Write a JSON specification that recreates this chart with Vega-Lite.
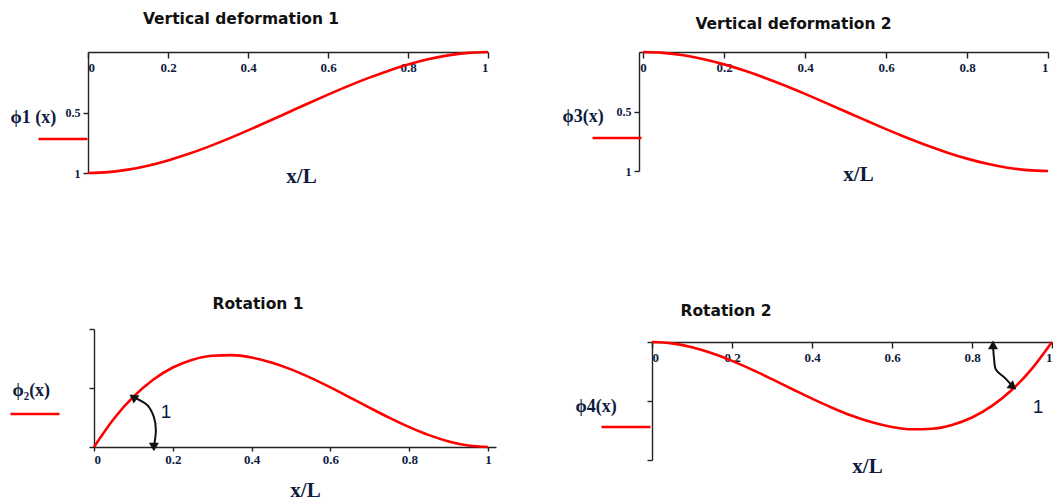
{
  "$schema": "https://vega.github.io/schema/vega-lite/v6.json",
  "autosize": {"type": "none"},
  "padding": {"left": 88, "top": 52, "right": 965, "bottom": 449},
  "background": "white",
  "config": {
    "view": {"stroke": null},
    "axis": {
      "domainColor": "#222", "domainWidth": 1.4, "tickColor": "#222", "tickWidth": 1.4,
      "grid": false, "labelOverlap": false,
      "labelFont": "Liberation Serif", "labelFontWeight": "bold", "labelFontSize": 13, "labelColor": "#0d1b3e",
      "titleFont": "Liberation Serif", "titleColor": "#0d1b3e"
    },
    "title": {"font": "DejaVu Sans", "fontWeight": "bold", "fontSize": 15.5, "color": "#111"}
  },
  "datasets": {
    "shapes": [
      {"xi": 0, "phi1": 1, "phi2": 0, "phi3": 0, "phi4": 0},
      {"xi": 0.05, "phi1": 0.99275, "phi2": 0.045125, "phi3": 0.00725, "phi4": -0.002375},
      {"xi": 0.1, "phi1": 0.972, "phi2": 0.081, "phi3": 0.028, "phi4": -0.009},
      {"xi": 0.15, "phi1": 0.93925, "phi2": 0.108375, "phi3": 0.06075, "phi4": -0.019125},
      {"xi": 0.2, "phi1": 0.896, "phi2": 0.128, "phi3": 0.104, "phi4": -0.032},
      {"xi": 0.25, "phi1": 0.84375, "phi2": 0.140625, "phi3": 0.15625, "phi4": -0.046875},
      {"xi": 0.3, "phi1": 0.784, "phi2": 0.147, "phi3": 0.216, "phi4": -0.063},
      {"xi": 0.35, "phi1": 0.71825, "phi2": 0.147875, "phi3": 0.28175, "phi4": -0.079625},
      {"xi": 0.4, "phi1": 0.648, "phi2": 0.144, "phi3": 0.352, "phi4": -0.096},
      {"xi": 0.45, "phi1": 0.57475, "phi2": 0.136125, "phi3": 0.42525, "phi4": -0.111375},
      {"xi": 0.5, "phi1": 0.5, "phi2": 0.125, "phi3": 0.5, "phi4": -0.125},
      {"xi": 0.55, "phi1": 0.42525, "phi2": 0.111375, "phi3": 0.57475, "phi4": -0.136125},
      {"xi": 0.6, "phi1": 0.352, "phi2": 0.096, "phi3": 0.648, "phi4": -0.144},
      {"xi": 0.65, "phi1": 0.28175, "phi2": 0.079625, "phi3": 0.71825, "phi4": -0.147875},
      {"xi": 0.7, "phi1": 0.216, "phi2": 0.063, "phi3": 0.784, "phi4": -0.147},
      {"xi": 0.75, "phi1": 0.15625, "phi2": 0.046875, "phi3": 0.84375, "phi4": -0.140625},
      {"xi": 0.8, "phi1": 0.104, "phi2": 0.032, "phi3": 0.896, "phi4": -0.128},
      {"xi": 0.85, "phi1": 0.06075, "phi2": 0.019125, "phi3": 0.93925, "phi4": -0.108375},
      {"xi": 0.9, "phi1": 0.028, "phi2": 0.009, "phi3": 0.972, "phi4": -0.081},
      {"xi": 0.95, "phi1": 0.00725, "phi2": 0.002375, "phi3": 0.99275, "phi4": -0.045125},
      {"xi": 1, "phi1": 0, "phi2": 0, "phi3": 1, "phi4": 0}
    ],
    "arrow2": [
      {"step": 0, "xi": 0.099, "v": 0.0805, "end": "curve"},
      {"step": 1, "xi": 0.135, "v": 0.0676},
      {"step": 2, "xi": 0.152, "v": 0.048},
      {"step": 3, "xi": 0.157, "v": 0.027},
      {"step": 4, "xi": 0.152, "v": 0.0, "end": "axis"}
    ],
    "arrow4": [
      {"step": 0, "xi": 0.8525, "v": -0.005, "end": "axis"},
      {"step": 1, "xi": 0.855, "v": -0.027},
      {"step": 2, "xi": 0.86, "v": -0.047},
      {"step": 3, "xi": 0.8825, "v": -0.061},
      {"step": 4, "xi": 0.9025, "v": -0.076, "end": "curve"}
    ]
  },
  "spacing": 277,
  "bounds": "flush",
  "resolve": {"scale": {"color": "independent"}, "legend": {"color": "independent"}},
  "vconcat": [
    {
      "spacing": 151,
      "bounds": "flush",
      "resolve": {"scale": {"color": "independent"}, "legend": {"color": "independent"}},
      "hconcat": [
        {
          "width": 400,
          "height": 121,
          "data": {"name": "shapes"},
          "title": {"text": "Vertical deformation 1", "anchor": "middle", "frame": "group", "dx": -47, "offset": 7, "baseline": "alphabetic"},
          "mark": {"type": "line", "strokeWidth": 2.6, "interpolate": "monotone"},
          "encoding": {
            "x": {
              "field": "xi", "type": "quantitative",
              "scale": {"domain": [0, 1], "nice": false},
              "axis": {"orient": "top", "values": [0, 0.2, 0.4, 0.6, 0.8, 1], "format": "~g", "tickSize": -6, "labelPadding": -3, "labelBaseline": "top",
                "title": "x/L", "titleX": 213, "titleY": 124, "titleAlign": "center", "titleBaseline": "middle", "titleFontSize": 21, "titleFontWeight": "bold"}
            },
            "y": {
              "field": "phi1", "type": "quantitative",
              "scale": {"domain": [0, 1], "range": [0, 121], "nice": false, "zero": false},
              "axis": {"values": [0.5, 1], "format": "~g", "tickSize": 5, "labelPadding": 3, "labelFontSize": 12,
                "title": "ϕ1 (x)", "titleAngle": 0, "titleX": -78, "titleY": 65, "titleAlign": "left", "titleBaseline": "middle", "titleFontSize": 18, "titleFontWeight": "bold"}
            },
            "color": {
              "datum": "ϕ1(x)",
              "scale": {"range": ["#ff0000"]},
              "legend": {"orient": "none", "legendX": -51, "legendY": 61, "title": null, "symbolType": "stroke", "symbolSize": 2401, "symbolStrokeWidth": 2.6, "labelExpr": "''", "padding": 0}
            }
          }
        },
        {
          "width": 409,
          "height": 121,
          "data": {"name": "shapes"},
          "title": {"text": "Vertical deformation 2", "anchor": "middle", "frame": "group", "dx": -50, "offset": 2, "baseline": "alphabetic"},
          "mark": {"type": "line", "strokeWidth": 2.6, "interpolate": "monotone"},
          "encoding": {
            "x": {
              "field": "xi", "type": "quantitative",
              "scale": {"domain": [-0.01, 1], "nice": false},
              "axis": {"orient": "top", "values": [0, 0.2, 0.4, 0.6, 0.8, 1], "format": "~g", "tickSize": -6, "labelPadding": -3, "labelBaseline": "top",
                "title": "x/L", "titleX": 219, "titleY": 122, "titleAlign": "center", "titleBaseline": "middle", "titleFontSize": 21, "titleFontWeight": "bold"}
            },
            "y": {
              "field": "phi3", "type": "quantitative",
              "scale": {"domain": [0, 1], "range": [0, 119], "nice": false, "zero": false},
              "axis": {"values": [0.5, 1], "format": "~g", "tickSize": 5, "labelPadding": 3, "labelFontSize": 12,
                "title": "ϕ3(x)", "titleAngle": 0, "titleX": -77, "titleY": 64, "titleAlign": "left", "titleBaseline": "middle", "titleFontSize": 18, "titleFontWeight": "bold"}
            },
            "color": {
              "datum": "ϕ3(x)",
              "scale": {"range": ["#ff0000"]},
              "legend": {"orient": "none", "legendX": -48, "legendY": 60, "title": null, "symbolType": "stroke", "symbolSize": 2401, "symbolStrokeWidth": 2.6, "labelExpr": "''", "padding": 0}
            }
          }
        }
      ]
    },
    {
      "spacing": 156,
      "bounds": "flush",
      "resolve": {"scale": {"color": "independent"}, "legend": {"color": "independent"}},
      "hconcat": [
        {
          "width": 408,
          "height": 118,
          "title": {"text": "Rotation 1", "anchor": "middle", "frame": "group", "dx": -34, "offset": 4, "baseline": "alphabetic"},
          "layer": [
            {
              "data": {"name": "shapes"},
              "mark": {"type": "line", "strokeWidth": 2.6, "interpolate": "monotone"},
              "encoding": {
                "x": {
                  "field": "xi", "type": "quantitative",
                  "scale": {"domain": [0, 1.02], "range": [6, 408], "nice": false},
                  "axis": {"orient": "bottom", "values": [0, 0.2, 0.4, 0.6, 0.8, 1], "format": "~g", "tickSize": 4, "labelPadding": 2,
                    "title": "x/L", "titleX": 217, "titleY": 43, "titleAlign": "center", "titleBaseline": "middle", "titleFontSize": 21, "titleFontWeight": "bold"}
                },
                "y": {
                  "field": "phi2", "type": "quantitative",
                  "scale": {"domain": [0, 0.19], "nice": false},
                  "axis": {"values": [0, 0.095, 0.19], "labels": false, "tickSize": 5, "offset": -6,
                    "title": "ϕ₂(x)", "titleAngle": 0, "titleX": -82, "titleY": 61, "titleAlign": "left", "titleBaseline": "middle", "titleFontSize": 18, "titleFontWeight": "bold"}
                },
                "color": {
                  "datum": "ϕ2(x)",
                  "scale": {"range": ["#ff0000"]},
                  "legend": {"orient": "none", "legendX": -79, "legendY": 59, "title": null, "symbolType": "stroke", "symbolSize": 2401, "symbolStrokeWidth": 2.6, "labelExpr": "''", "padding": 0}
                }
              }
            },
            {
              "data": {"name": "arrow2"},
              "mark": {"type": "line", "strokeWidth": 2, "color": "#111", "interpolate": "cardinal"},
              "encoding": {
                "x": {"field": "xi", "type": "quantitative"},
                "y": {"field": "v", "type": "quantitative"},
                "order": {"field": "step"}
              }
            },
            {
              "data": {"name": "arrow2"},
              "transform": [{"filter": "datum.end === 'curve'"}],
              "mark": {"type": "point", "shape": "triangle-up", "filled": true, "size": 100, "color": "#111", "opacity": 1, "angle": 305},
              "encoding": {
                "x": {"field": "xi", "type": "quantitative"},
                "y": {"field": "v", "type": "quantitative"}
              }
            },
            {
              "data": {"name": "arrow2"},
              "transform": [{"filter": "datum.end === 'axis'"}],
              "mark": {"type": "point", "shape": "triangle-up", "filled": true, "size": 100, "color": "#111", "opacity": 1, "angle": 180},
              "encoding": {
                "x": {"field": "xi", "type": "quantitative"},
                "y": {"field": "v", "type": "quantitative"}
              }
            },
            {
              "data": {"values": [{"xi": 0.183, "v": 0.056, "label": "1"}]},
              "mark": {"type": "text", "font": "Liberation Sans", "fontSize": 19, "color": "#0d1b3e"},
              "encoding": {
                "x": {"field": "xi", "type": "quantitative"},
                "y": {"field": "v", "type": "quantitative"},
                "text": {"field": "label"}
              }
            }
          ]
        },
        {
          "width": 400,
          "height": 131,
          "title": {"text": "Rotation 2", "anchor": "middle", "frame": "group", "dx": -126, "offset": -2, "baseline": "alphabetic"},
          "layer": [
            {
              "data": {"name": "shapes"},
              "mark": {"type": "line", "strokeWidth": 2.6, "interpolate": "monotone"},
              "encoding": {
                "x": {
                  "field": "xi", "type": "quantitative",
                  "scale": {"domain": [0, 1], "nice": false},
                  "axis": {"orient": "top", "offset": -13, "values": [0, 0.2, 0.4, 0.6, 0.8, 1], "format": "~g", "tickSize": -6, "labelPadding": -3, "labelBaseline": "top",
                    "title": "x/L", "titleX": 215, "titleY": 124, "titleAlign": "center", "titleBaseline": "middle", "titleFontSize": 21, "titleFontWeight": "bold"}
                },
                "y": {
                  "field": "phi4", "type": "quantitative",
                  "scale": {"domain": [-0.2, 0], "range": [131, 13], "nice": false, "zero": false},
                  "axis": {"values": [-0.2, -0.1, 0], "labels": false, "tickSize": 5,
                    "title": "ϕ4(x)", "titleAngle": 0, "titleX": -77, "titleY": 77, "titleAlign": "left", "titleBaseline": "middle", "titleFontSize": 18, "titleFontWeight": "bold"}
                },
                "color": {
                  "datum": "ϕ4(x)",
                  "scale": {"range": ["#ff0000"]},
                  "legend": {"orient": "none", "legendX": -52, "legendY": 72, "title": null, "symbolType": "stroke", "symbolSize": 2401, "symbolStrokeWidth": 2.6, "labelExpr": "''", "padding": 0}
                }
              }
            },
            {
              "data": {"name": "arrow4"},
              "mark": {"type": "line", "strokeWidth": 2, "color": "#111", "interpolate": "cardinal"},
              "encoding": {
                "x": {"field": "xi", "type": "quantitative"},
                "y": {"field": "v", "type": "quantitative"},
                "order": {"field": "step"}
              }
            },
            {
              "data": {"name": "arrow4"},
              "transform": [{"filter": "datum.end === 'axis'"}],
              "mark": {"type": "point", "shape": "triangle-up", "filled": true, "size": 100, "color": "#111", "opacity": 1, "angle": 0},
              "encoding": {
                "x": {"field": "xi", "type": "quantitative"},
                "y": {"field": "v", "type": "quantitative"}
              }
            },
            {
              "data": {"name": "arrow4"},
              "transform": [{"filter": "datum.end === 'curve'"}],
              "mark": {"type": "point", "shape": "triangle-up", "filled": true, "size": 100, "color": "#111", "opacity": 1, "angle": 130},
              "encoding": {
                "x": {"field": "xi", "type": "quantitative"},
                "y": {"field": "v", "type": "quantitative"}
              }
            },
            {
              "data": {"values": [{"xi": 0.965, "v": -0.11, "label": "1"}]},
              "mark": {"type": "text", "font": "Liberation Sans", "fontSize": 19, "color": "#0d1b3e"},
              "encoding": {
                "x": {"field": "xi", "type": "quantitative"},
                "y": {"field": "v", "type": "quantitative"},
                "text": {"field": "label"}
              }
            }
          ]
        }
      ]
    }
  ]
}
